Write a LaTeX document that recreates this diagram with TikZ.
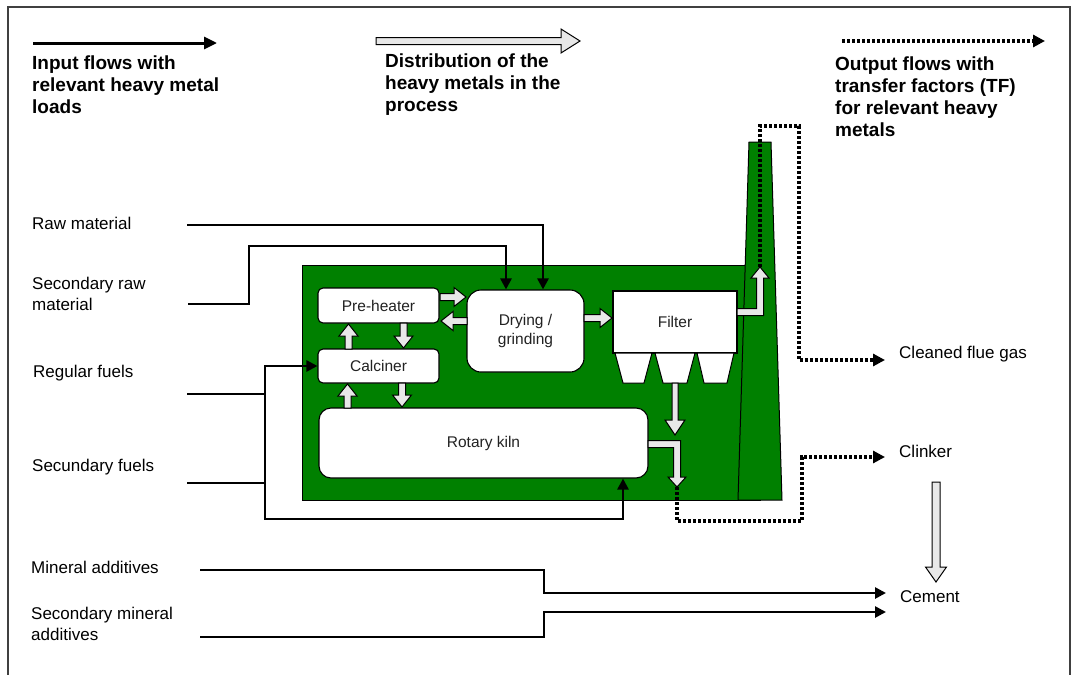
\documentclass[tikz,border=0pt]{standalone}
\usepackage{fontspec}
\setmainfont{Liberation Sans}
\usetikzlibrary{arrows.meta,calc}
\definecolor{kilngreen}{HTML}{008000}
\definecolor{hollowfill}{HTML}{E8E8E8}
\definecolor{innertext}{HTML}{222222}
\definecolor{framec}{HTML}{404040}
% straight hollow arrows: horizontal (x1, x2=tip, y, half shaft, half head, head length)
\newcommand\HArrow[6]{%
  \filldraw[hollowst] (#1,{#3-#4}) -- ({#2-#6*sign(#2-#1)},{#3-#4}) -- ({#2-#6*sign(#2-#1)},{#3-#5}) -- (#2,#3)
    -- ({#2-#6*sign(#2-#1)},{#3+#5}) -- ({#2-#6*sign(#2-#1)},{#3+#4}) -- (#1,{#3+#4}) -- cycle;}
% vertical (y1, y2=tip, x, half shaft, half head, head length)
\newcommand\VArrow[6]{%
  \filldraw[hollowst] ({#3-#4},#1) -- ({#3-#4},{#2-#6*sign(#2-#1)}) -- ({#3-#5},{#2-#6*sign(#2-#1)}) -- (#3,#2)
    -- ({#3+#5},{#2-#6*sign(#2-#1)}) -- ({#3+#4},{#2-#6*sign(#2-#1)}) -- ({#3+#4},#1) -- cycle;}
\begin{document}
\begin{tikzpicture}[x=1pt,y=-1pt,
  lbl/.style={font=\fontsize{17}{21}\selectfont, anchor=west, align=left, inner sep=0pt},
  leg/.style={font=\fontsize{19}{22}\selectfont\bfseries, anchor=west, align=left, inner sep=0pt},
  box/.style={draw, fill=white, line width=1.1pt, font=\fontsize{15.5}{19}\selectfont, text=innertext, align=center, inner sep=0pt},
  flowline/.style={line width=2.6pt},
  inflow/.style={flowline, -{Triangle[length=11pt,width=11pt]}},
  outflow/.style={line width=3.2pt, dash pattern=on 3.2pt off 1.8pt, -{Triangle[length=12pt,width=12pt]}},
  hollowst/.style={draw=black, fill=hollowfill, line width=1pt, line join=miter},
  plant/.style={draw=black, fill=kilngreen, line width=1pt},
  hopper/.style={draw=black, fill=white, line width=1pt}]
\useasboundingbox (0,0) rectangle (1072,675);
% frame
\draw[framec, line width=1.2pt] (8,680) -- (8,7) -- (1070,7) -- (1070,680);

% legend
\coordinate (legA1) at (33,43);
\coordinate (legA2) at (217,43);
\draw[line width=3pt, -{Triangle[length=13pt,width=12pt]}] (legA1) -- (legA2);
\node[leg] (legIn) at (32,85) {Input flows with\\relevant heavy metal\\loads};
\HArrow{376}{580}{41}{3.5}{12}{19}
\node[leg] (legDist) at (385,85) {Distribution of the\\heavy metals in the\\process};
\coordinate (legO1) at (842,41);
\coordinate (legO2) at (1045,41);
\draw[outflow] (legO1) -- (legO2);
\node[leg] (legOut) at (835,97) {Output flows with\\transfer factors (TF)\\for relevant heavy\\metals};

% plant body and chimney
\draw[plant] (302,265) rectangle (760,500);
\draw[plant] (738,500) -- (749,142) -- (771,142) -- (782,500) -- cycle;

% process boxes
\node[box, rounded corners=5pt, minimum width=121pt, minimum height=35pt] (pre) at (378.5,305.5) {Pre-heater};
\node[box, rounded corners=5pt, minimum width=121pt, minimum height=34pt] (calc) at (378.5,366) {Calciner};
\node[box, rounded corners=14pt, minimum width=117pt, minimum height=82pt] (dry) at (525.5,331) {Drying /\\grinding};
\node[box, rounded corners=12pt, minimum width=329pt, minimum height=70pt] (kiln) at (483.5,443) {Rotary kiln};
\node[box, minimum width=124pt, minimum height=62pt] (filter) at (675,322) {Filter};
\draw[hopper] (615,353) -- (652,353) -- (644,383) -- (623,383) -- cycle;
\draw[hopper] (655,353) -- (695,353) -- (687,383) -- (663,383) -- cycle;
\draw[hopper] (697,353) -- (734,353) -- (727,383) -- (704,383) -- cycle;

% internal hollow arrows
\HArrow{440}{466}{297}{3.5}{9.5}{12}
\HArrow{467}{441}{321}{3.5}{9.5}{12}
\VArrow{323}{348}{403.5}{3.5}{9.5}{12}
\VArrow{349}{324}{348.5}{3.5}{9.5}{12}
\VArrow{383}{407}{402}{3.5}{9.5}{12}
\VArrow{408}{384}{347.5}{3.5}{9.5}{12}
\HArrow{584}{612}{318}{3.5}{9.5}{12}
\VArrow{383}{435}{675}{3}{10}{15}
% filter -> chimney
\filldraw[hollowst] (737,315.5) -- (763.5,315.5) -- (763.5,278) -- (769,278) -- (760,267) -- (751,278)
  -- (756.5,278) -- (756.5,308.5) -- (737,308.5) -- cycle;
% kiln -> clinker
\filldraw[hollowst] (648,440.5) -- (680.5,440.5) -- (680.5,477) -- (686,477) -- (677,487) -- (668,477)
  -- (673.5,477) -- (673.5,447.5) -- (648,447.5) -- cycle;

% input labels and flows
\node[lbl] (raw) at (32,223) {Raw material};
\node[lbl] (sraw) at (32,294) {Secondary raw\\material};
\node[lbl] (regf) at (33,373) {Regular fuels};
\node[lbl] (secf) at (32,467) {Secundary fuels};
\node[lbl] (mina) at (31,567) {Mineral additives};
\node[lbl] (smina) at (31,624) {Secondary mineral\\additives};

\coordinate (rawS) at (187,225);
\coordinate (rx) at (543,0);
\coordinate (srawS) at (188,304);
\coordinate (srx) at (506,0);
\coordinate (regS) at (187,394);
\coordinate (secS) at (187,483);
\coordinate (jReg) at (265,394);
\coordinate (jSec) at (265,483);
\coordinate (kx) at (623,0);
\coordinate (minS) at (200,570);
\coordinate (sminS) at (200,637);
\coordinate (cemA) at (886,593);
\coordinate (cemB) at (886,612);

\draw[inflow] (rawS) -| (dry.north -| rx);
\draw[inflow] (srawS) -- (249,304) -- (249,246) -| (dry.north -| srx);
\draw[flowline] (regS) -- (jReg);
\draw[flowline] (secS) -- (jSec);
\draw[inflow] (jSec) -- (jReg) |- (calc.west);
\draw[inflow] (jReg) |- (623,519) -- (kiln.south -| kx);
\draw[inflow] (minS) -- (544,570) |- (cemA);
\draw[inflow] (sminS) -- (544,637) |- (cemB);

% outputs
\node[lbl] (flue) at (899,354) {Cleaned flue gas};
\node[lbl] (clinker) at (899,451) {Clinker};
\node[lbl] (cement) at (900,597) {Cement};
\coordinate (fgA) at (760,267);
\coordinate (flueIn) at (885,360);
\coordinate (klA) at (677,487);
\coordinate (clkIn) at (885,457);
\draw[outflow] (fgA) |- (799,126) |- (flueIn);
\draw[outflow] (klA) |- (802,521) |- (clkIn);
\VArrow{482}{582}{936}{4}{10.5}{15}
\end{tikzpicture}
\end{document}
